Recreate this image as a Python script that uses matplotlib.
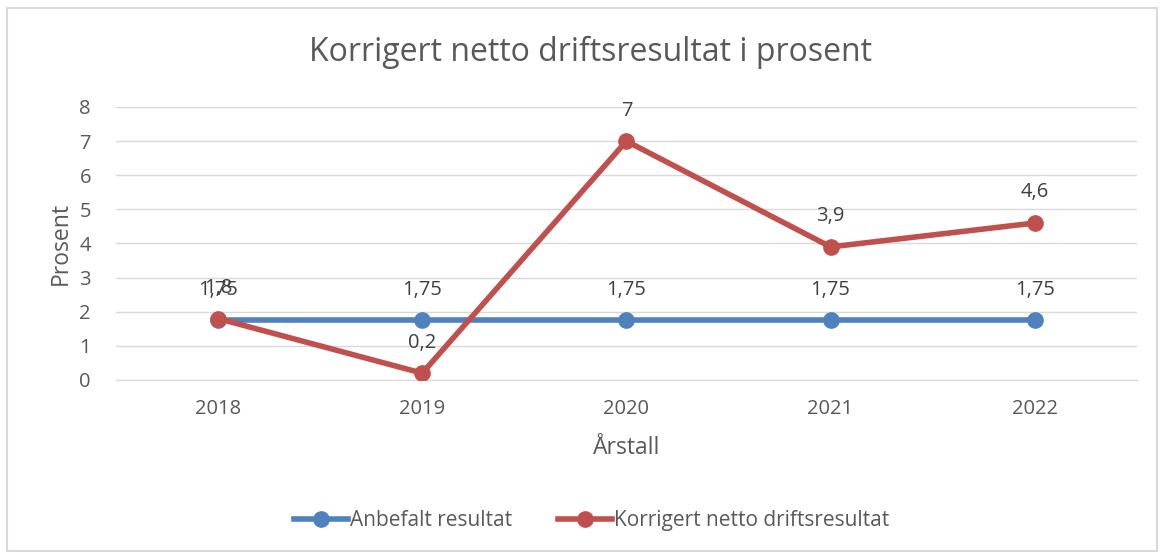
import matplotlib
matplotlib.use("Agg")
import matplotlib.pyplot as plt
from matplotlib.patches import Rectangle

years = ["2018", "2019", "2020", "2021", "2022"]
anbefalt = [1.75, 1.75, 1.75, 1.75, 1.75]
korrigert = [1.8, 0.2, 7, 3.9, 4.6]
anbefalt_labels = ["1,75", "1,75", "1,75", "1,75", "1,75"]
korrigert_labels = ["1,8", "0,2", "7", "3,9", "4,6"]

blue = "#4F81BD"
red = "#C0504D"
gray = "#595959"

plt.rcParams['font.family'] = ['Open Sans', 'DejaVu Sans']

fig = plt.figure(figsize=(11.6, 5.52), dpi=100)
fig.patches.append(Rectangle((7/1160, 1-551/552), 1150/1160, 543/552, transform=fig.transFigure,
                             fill=False, edgecolor="#D9D9D9", linewidth=1.5))
ax = fig.add_axes([0.1, 0.3116, 0.88, 0.4946])

x = list(range(len(years)))
ax.plot(x, anbefalt, color=blue, lw=4, marker="o", ms=11, label="Anbefalt resultat", zorder=3)
ax.plot(x, korrigert, color=red, lw=4, marker="o", ms=11, label="Korrigert netto driftsresultat", zorder=4)

for i in x:
    ax.annotate(anbefalt_labels[i], (i, anbefalt[i]), xytext=(0, 22), textcoords="offset points",
                ha="center", va="center", fontsize=14.5, color="#404040")
    ax.annotate(korrigert_labels[i], (i, korrigert[i]), xytext=(0, 22), textcoords="offset points",
                ha="center", va="center", fontsize=14.5, color="#404040")

ax.set_xlim(-0.5, 4.5)
ax.set_ylim(0, 8)
ax.set_yticks(range(0, 9))
ax.set_xticks(x)
ax.set_xticklabels(years)
ax.grid(axis="y", color="#D9D9D9", lw=1)
ax.set_axisbelow(True)
for s in ["top", "right", "left"]:
    ax.spines[s].set_visible(False)
ax.spines["bottom"].set_color("#D9D9D9")
ax.tick_params(axis="x", length=0, labelsize=14.5, colors=gray, pad=14)
ax.tick_params(axis="y", length=0, labelsize=14.5, colors=gray, pad=18)
ax.set_xlabel("Årstall", fontsize=16.5, color=gray, labelpad=12)
ax.set_ylabel("Prosent", fontsize=16.5, color=gray, labelpad=5)
fig.text(0.509, 0.905, "Korrigert netto driftsresultat i prosent", ha="center", va="center",
         fontsize=23, color=gray)

leg = fig.legend(loc="center", bbox_to_anchor=(0.51, 0.057), ncol=2, frameon=False,
                 fontsize=15, handlelength=2.6, columnspacing=2.2, handletextpad=0.1)
for t in leg.get_texts():
    t.set_color(gray)

fig.savefig("out.png", dpi=100)
